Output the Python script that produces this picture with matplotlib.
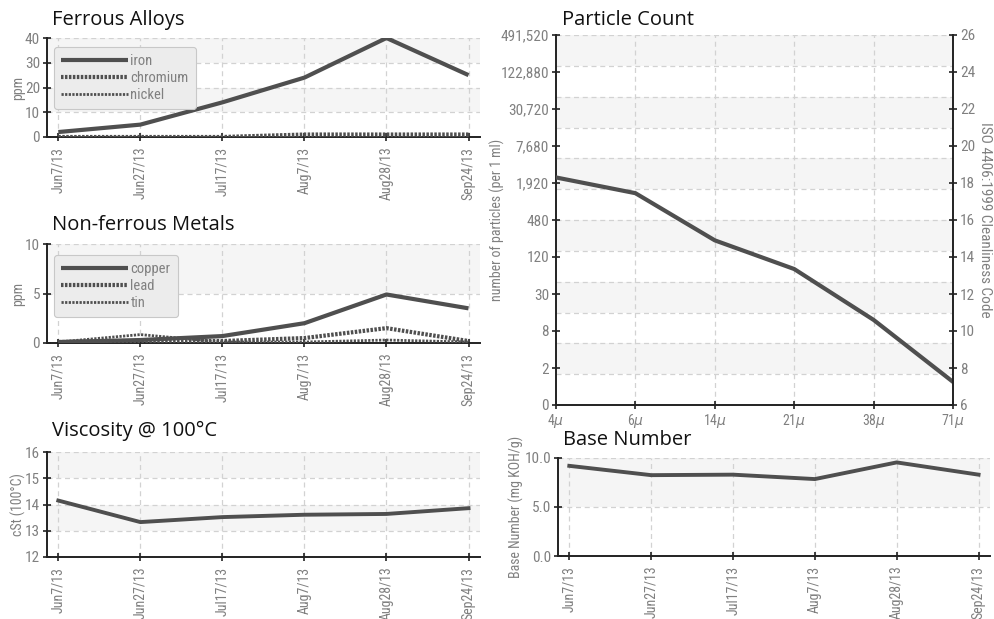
import numpy as np
import matplotlib
matplotlib.use('Agg')
import matplotlib.pyplot as plt
from matplotlib import font_manager

# sample dates shared by the time panels
dates = ['Jun7/13', 'Jun27/13', 'Jul17/13', 'Aug7/13', 'Aug28/13', 'Sep24/13']

# ferrous alloys (ppm)
iron = [2, 5, 14, 24, 40, 25]
chromium = [0, 0, 0, 1, 1, 1]
nickel = [0, 0, 0, 0, 0, 0]

# non-ferrous metals (ppm)
copper = [0.1, 0.3, 0.7, 2.0, 4.9, 3.5]
lead = [0.1, 0.2, 0.2, 0.5, 1.5, 0.2]
tin = [0.1, 0.85, 0.1, 0.1, 0.3, 0.1]

# viscosity and base number
viscosity = [14.15, 13.33, 13.52, 13.61, 13.64, 13.86]
base_number = [9.2, 8.25, 8.3, 7.85, 9.55, 8.3]

# particle count, plotted as ISO 4406 code
sizes = ['4', '6', '14', '21', '38', '71']
iso_code = [18.3, 17.45, 14.9, 13.35, 10.6, 7.25]
iso_ticks = [6, 8, 10, 12, 14, 16, 18, 20, 22, 24, 26]
count_labels = ['0', '2', '8', '30', '120', '480', '1,920', '7,680',
                '30,720', '122,880', '491,520']

# pick a narrow font if there is one
names = set(f.name for f in font_manager.fontManager.ttflist)
narrow = 'DejaVu Sans'
for n in ['Liberation Sans Narrow', 'DejaVu Sans Condensed', 'Roboto Condensed']:
    if n in names:
        narrow = n
        break
title_font = 'Open Sans' if 'Open Sans' in names else 'DejaVu Sans'

LINE = '#4f4f4f'
GRAY = '#808080'
BAND = '#f5f5f5'
GRID = '#d2d2d2'
TICK_FS = 11
XTICK_FS = 10
TITLE_FS = 14.5

W, H = 995, 619
fig = plt.figure(figsize=(W / 100, H / 100), dpi=100)


def px_rect(left, top, right, bottom):
    return [left / W, 1 - bottom / H, (right - left) / W, (bottom - top) / H]


def style_axes(ax):
    for s in ['top', 'right']:
        ax.spines[s].set_visible(False)
    for s in ['left', 'bottom']:
        ax.spines[s].set_linewidth(1.4)
        ax.spines[s].set_color('#222222')
    ax.tick_params(direction='inout', length=6, width=1.2, color='#222222',
                   labelcolor=GRAY, labelsize=TICK_FS)
    for lab in ax.get_yticklabels() + ax.get_xticklabels():
        lab.set_family(narrow)


def time_panel(rect, title, tx, ty, ylim, yticks, band_pairs, ylabel, series=None,
               values=None, ytickfmt=None, ylab_x=18):
    ax = fig.add_axes(rect)
    x = np.arange(len(dates))
    for lo, hi in band_pairs:
        ax.axhspan(lo, hi, color=BAND, zorder=0, lw=0)
    for xi in x:
        ax.axvline(xi, color=GRID, lw=0.9, ls=(0, (4, 3)), zorder=1)
    for yt in yticks[1:]:
        ax.axhline(yt, color=GRID, lw=0.9, ls=(0, (4, 3)), zorder=1)
    if series is not None:
        for vals, label, lw, ls in series:
            ax.plot(x, vals, color=LINE, lw=lw, ls=ls, label=label, zorder=3,
                    solid_capstyle='butt', dash_capstyle='butt')
    if values is not None:
        ax.plot(x, values, color=LINE, lw=2.8, zorder=3)
    ax.set_xlim(-0.138, 5.14)
    ax.set_ylim(*ylim)
    ax.set_yticks(yticks)
    if ytickfmt:
        ax.set_yticklabels([ytickfmt.format(v) for v in yticks])
    ax.set_xticks(x)
    ax.set_xticklabels(dates, rotation=90, va='top', ha='center')
    style_axes(ax)
    ax.tick_params(axis='x', pad=4, labelsize=XTICK_FS)
    ax.tick_params(axis='y', pad=2)
    fig.text(tx / W, 1 - ty / H, title, fontsize=TITLE_FS, family=title_font,
             color='#111111', va='baseline', ha='left')
    bb = ax.get_position()
    fig.text(ylab_x / W, bb.y0 + bb.height / 2, ylabel, rotation=90, color=GRAY,
             fontsize=10, family=narrow, ha='center', va='center')
    return ax


def add_legend(ax, yanchor):
    leg = ax.legend(loc='upper left', bbox_to_anchor=(0.016, yanchor), borderaxespad=0,
                    handlelength=4.6, handletextpad=0.15, labelspacing=0.2,
                    frameon=True, fancybox=True, borderpad=0.5,
                    prop={'family': narrow, 'size': 10.5})
    fr = leg.get_frame()
    fr.set_facecolor('#ececec')
    fr.set_edgecolor('#c8c8c8')
    fr.set_alpha(1)
    fr.set_linewidth(0.8)
    for t in leg.get_texts():
        t.set_color(GRAY)
    leg.set_zorder(5)


# Ferrous Alloys
ax1 = time_panel(px_rect(47, 38, 480, 137), 'Ferrous Alloys', 52, 25,
                 (0, 40), [0, 10, 20, 30, 40], [(30, 40), (10, 20)], 'ppm',
                 series=[(iron, 'iron', 3.0, '-'),
                         (chromium, 'chromium', 3.0, (0, (0.6, 0.35))),
                         (nickel, 'nickel', 2.0, (0, (0.8, 0.5)))])
add_legend(ax1, 0.91)

# Non-ferrous Metals
ax2 = time_panel(px_rect(47, 244, 480, 343), 'Non-ferrous Metals', 52, 230,
                 (0, 10), [0, 5, 10], [(5, 10)], 'ppm',
                 series=[(copper, 'copper', 3.0, '-'),
                         (lead, 'lead', 3.0, (0, (0.6, 0.35))),
                         (tin, 'tin', 2.0, (0, (0.8, 0.5)))])
add_legend(ax2, 0.89)

# Viscosity
ax3 = time_panel(px_rect(47, 452, 480, 557), 'Viscosity @ 100°C', 52, 436,
                 (12, 16), [12, 13, 14, 15, 16], [(15, 16), (13, 14)], 'cSt (100°C)',
                 values=viscosity)

# Base Number
ax5 = time_panel(px_rect(558, 458, 990, 556), 'Base Number', 563, 445,
                 (0, 10), [0, 5, 10], [(5, 10)], 'Base Number (mg KOH/g)',
                 values=base_number, ytickfmt='{:.1f}', ylab_x=516)

# Particle Count
ax4 = fig.add_axes(px_rect(556, 35, 953, 405))
xp = np.arange(len(sizes))
grid_y = np.linspace(6, 26, 13)
for i in range(12):
    if i % 2 == 1:
        ax4.axhspan(grid_y[i], grid_y[i + 1], color=BAND, zorder=0, lw=0)
for gy in grid_y[1:]:
    ax4.axhline(gy, color=GRID, lw=0.9, ls=(0, (4, 3)), zorder=1)
for xi in xp[1:-1]:
    ax4.axvline(xi, color=GRID, lw=0.9, ls=(0, (4, 3)), zorder=1)
ax4.plot(xp, iso_code, color=LINE, lw=3.0, zorder=3)
ax4.set_xlim(0, 5)
ax4.set_ylim(6, 26)
ax4.set_yticks(iso_ticks)
ax4.set_yticklabels(count_labels)
ax4.set_xticks(xp)
ax4.set_xticklabels([s + r'$\mu$' for s in sizes])
style_axes(ax4)
ax4.tick_params(axis='x', pad=2, labelsize=10)
ax4.tick_params(axis='y', pad=2)
ax4r = ax4.twinx()
ax4r.set_ylim(6, 26)
ax4r.set_yticks(iso_ticks)
for s in ['top', 'left', 'bottom']:
    ax4r.spines[s].set_visible(False)
ax4r.spines['right'].set_linewidth(1.4)
ax4r.spines['right'].set_color('#222222')
ax4r.tick_params(direction='inout', length=6, width=1.2, color='#222222',
                 labelcolor=GRAY, labelsize=TICK_FS, pad=2)
for lab in ax4r.get_yticklabels():
    lab.set_family(narrow)
fig.text(562 / W, 1 - 25 / H, 'Particle Count', fontsize=TITLE_FS, family=title_font,
         color='#111111', va='baseline', ha='left')
fig.text(497 / W, 1 - 220 / H, 'number of particles (per 1 ml)', rotation=90,
         color=GRAY, fontsize=10, family=narrow, ha='center', va='center')
fig.text(985 / W, 1 - 220 / H, 'ISO 4406:1999 Cleanliness Code', rotation=270,
         color=GRAY, fontsize=11, family=narrow, ha='center', va='center')

fig.savefig('out.png', dpi=100)
